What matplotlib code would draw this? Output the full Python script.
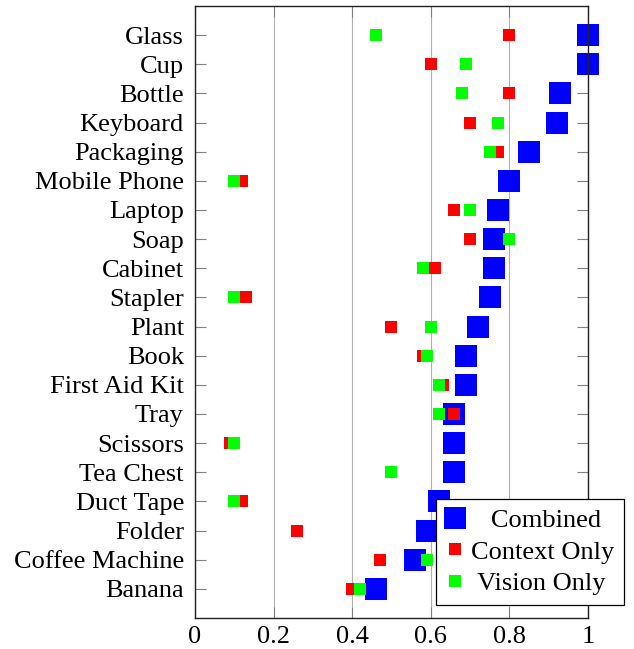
import matplotlib
matplotlib.use("Agg")
import matplotlib.pyplot as plt

categories = ["Glass", "Cup", "Bottle", "Keyboard", "Packaging", "Mobile Phone",
              "Laptop", "Soap", "Cabinet", "Stapler", "Plant", "Book",
              "First Aid Kit", "Tray", "Scissors", "Tea Chest", "Duct Tape",
              "Folder", "Coffee Machine", "Banana"]
combined = [1.00, 1.00, 0.93, 0.92, 0.85, 0.80, 0.77, 0.76, 0.76, 0.75,
            0.72, 0.69, 0.69, 0.66, 0.66, 0.66, 0.62, 0.59, 0.56, 0.46]
context_only = [0.80, 0.60, 0.80, 0.70, 0.77, 0.12, 0.66, 0.70, 0.61, 0.13,
                0.50, 0.58, 0.63, 0.66, 0.09, 0.50, 0.12, 0.26, 0.47, 0.40]
vision_only = [0.46, 0.69, 0.68, 0.77, 0.75, 0.10, 0.70, 0.80, 0.58, 0.10,
               0.60, 0.59, 0.62, 0.62, 0.10, 0.50, 0.10, 0.70, 0.59, 0.42]
xticks = [0, 0.2, 0.4, 0.6, 0.8, 1]
xticklabels = ["0", "0.2", "0.4", "0.6", "0.8", "1"]

FS = 19
plt.rcParams['font.family'] = ['Liberation Serif', 'DejaVu Serif']
plt.rcParams['font.size'] = FS

fig = plt.figure(figsize=(6.34, 6.49), dpi=100)
ax = fig.add_axes([0.3076, 0.0478, 0.6198, 0.943])

y = list(range(len(categories)))
ax.plot(combined, y, linestyle='none', marker='s', markersize=15.5,
        color='#0000ff', markeredgewidth=0, label='   Combined', zorder=3,
        clip_on=False)
ax.plot(context_only, y, linestyle='none', marker='s', markersize=8.4,
        color='#ff0000', markeredgewidth=0, label='Context Only', zorder=4,
        clip_on=False)
ax.plot(vision_only, y, linestyle='none', marker='s', markersize=8.4,
        color='#00ff00', markeredgewidth=0, label=' Vision Only', zorder=5,
        clip_on=False)

ax.set_xlim(0, 1)
ax.set_ylim(len(categories), -1)
ax.set_yticks(y)
ax.set_yticklabels(categories)
ax.set_xticks(xticks)
ax.set_xticklabels(xticklabels)
ax.grid(axis='x', color='#b0b0b0', linewidth=0.8, zorder=0)
ax.set_axisbelow(True)
ax.tick_params(axis='both', direction='in', length=8, width=0.8, color='#808080',
               top=True, right=True, labelsize=FS)
ax.tick_params(axis='y', pad=8)
ax.tick_params(axis='x', pad=6)
for s in ax.spines.values():
    s.set_linewidth(1.0)
    s.set_color('#222222')
    s.set_zorder(6)

leg = ax.legend(loc='lower left', bbox_to_anchor=(0.613, 0.021), fontsize=FS,
                frameon=True, fancybox=False, edgecolor='black', framealpha=1,
                borderpad=0.38, handletextpad=0.25, labelspacing=0.3,
                handlelength=0.7, borderaxespad=0)
leg.get_frame().set_linewidth(0.9)
leg.set_zorder(10)

fig.savefig("out.png", dpi=100)
